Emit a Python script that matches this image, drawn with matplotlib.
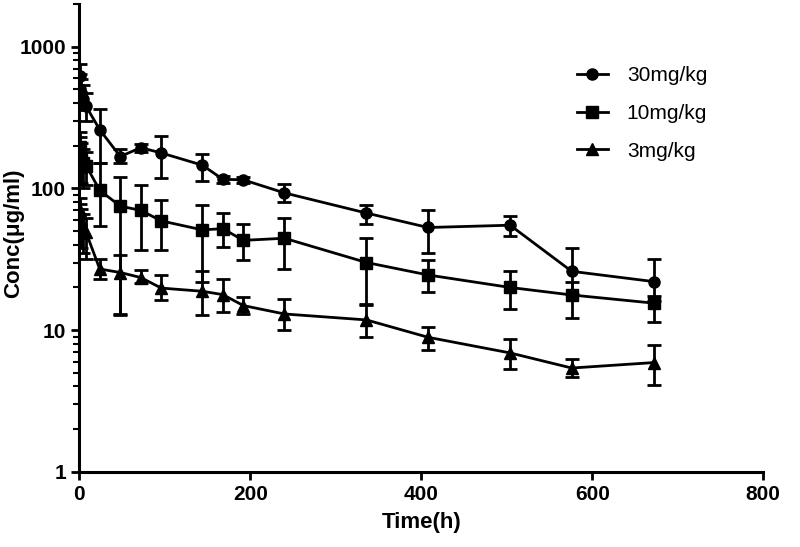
import matplotlib
matplotlib.use('Agg')
import matplotlib.pyplot as plt
from matplotlib.lines import Line2D
from matplotlib.ticker import LogLocator, NullFormatter, FixedLocator

plt.rcParams['font.family'] = ['Liberation Sans', 'DejaVu Sans']

# sampling times (h)
times = [0.5, 1, 2, 4, 8, 24, 48, 72, 96, 144, 168, 192, 240, 336, 408, 504, 576, 672]

# mean concentrations (ug/ml)
conc30 = [620, 500, 470, 430, 380, 260, 168, 194, 178, 146, 116, 115, 93, 67, 53, 55, 26, 22]
conc10 = [195, 175, 160, 150, 145, 97, 75, 70, 59, 51, 52, 43, 44.5, 30, 24.5, 20, 17.7, 15.5]
conc3 = [70, 60, 55, 52, 49, 27, 25.5, 23.5, 19.8, 18.8, 17.8, 14.9, 13, 11.8, 8.9, 6.9, 5.4, 5.9]

# upper / lower error bar ends
hi30 = [760, 640, 590, 540, 470, 366, 189, 205, 234, 174, 122, 120, 107, 77, 70, 64, 38, 32]
lo30 = [480, 400, 380, 360, 300, 150, 150, 182, 119, 112, 110, 110, 80, 56, 35, 46, 18, 16]
hi10 = [250, 230, 210, 190, 180, 150, 120, 105, 83, 77, 67, 56, 62, 45, 31, 26, 22, 17.5]
lo10 = [150, 130, 110, 100, 105, 54, 13, 37, 36.5, 22, 38.5, 31, 27, 15, 18.5, 14.1, 12.1, 11.4]
hi3 = [85, 78, 72, 66, 62, 32, 34, 26.5, 24.3, 26, 23, 17, 16.5, 15.3, 10.6, 8.6, 6.3, 7.9]
lo3 = [55, 45, 38, 35, 32, 23, 12.7, 21.5, 16.3, 12.7, 13.4, 13, 10, 8.9, 7.2, 5.3, 4.7, 4.1]

labels = ['30mg/kg', '10mg/kg', '3mg/kg']
markers = ['o', 's', '^']

fig = plt.figure(figsize=(8, 5.47), dpi=100)
ax = fig.add_axes([0.099, 0.1375, 0.855, 0.855])

series = [(conc30, hi30, lo30), (conc10, hi10, lo10), (conc3, hi3, lo3)]
for (c, h, l), m in zip(series, markers):
    yerr = [[ci - li for ci, li in zip(c, l)], [hi - ci for ci, hi in zip(c, h)]]
    ax.errorbar(times, c, yerr=yerr, color='black', marker=m, markersize=8,
                linewidth=2, elinewidth=2, capsize=5, capthick=2)

ax.set_yscale('log')
ax.set_ylim(1, 2000)
ax.set_xlim(0, 800)
ax.xaxis.set_major_locator(FixedLocator([0, 200, 400, 600, 800]))
ax.yaxis.set_major_locator(FixedLocator([1, 10, 100, 1000]))
ax.set_yticklabels(['1', '10', '100', '1000'])
ax.yaxis.set_minor_locator(LogLocator(base=10, subs=range(2, 10)))
ax.yaxis.set_minor_formatter(NullFormatter())

for s in ['top', 'right']:
    ax.spines[s].set_visible(False)
for s in ['left', 'bottom']:
    ax.spines[s].set_linewidth(2.2)

ax.tick_params(axis='both', which='major', direction='out', length=6, width=2, labelsize=15)
ax.tick_params(axis='y', which='minor', direction='out', length=4, width=1.5)
for t in ax.get_xticklabels() + ax.get_yticklabels():
    t.set_fontweight('bold')

ax.set_xlabel('Time(h)', fontsize=16, fontweight='bold', labelpad=6)
ax.set_ylabel('Conc(μg/ml)', fontsize=16, fontweight='bold')
ax.yaxis.set_label_coords(-0.08, 0.51)

# legend: line + marker only, no error bars
handles = [Line2D([], [], color='black', marker=m, markersize=8, linewidth=2) for m in markers]
fig.legend(handles, labels, loc='upper left', bbox_to_anchor=(0.721, 0.879),
           frameon=False, fontsize=15, handlelength=1.5, handletextpad=0.9,
           labelspacing=0.9, borderpad=0, borderaxespad=0)

fig.savefig('out.png', dpi=100)
